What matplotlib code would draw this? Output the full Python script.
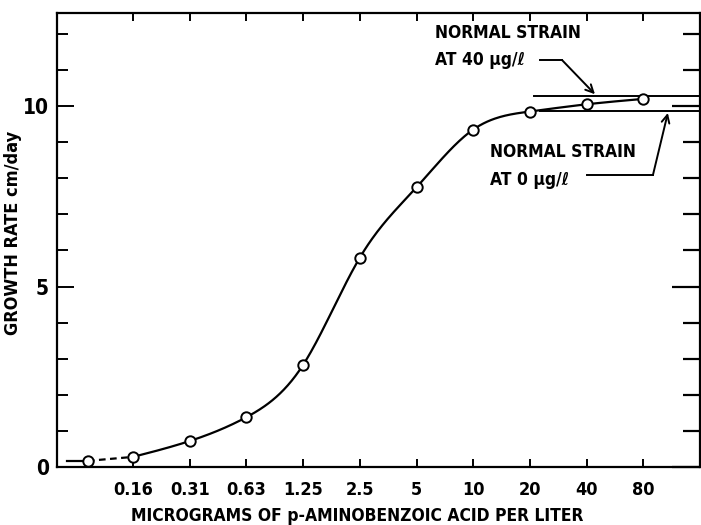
import os
import numpy as np
import matplotlib
matplotlib.use('Agg')
import matplotlib.pyplot as plt
from matplotlib import font_manager as fm
from matplotlib.ticker import FixedLocator, NullLocator, FixedFormatter, NullFormatter

# ---- data ----
conc = [0.09, 0.15625, 0.3125, 0.625, 1.25, 2.5, 5, 10, 20, 40, 80]
growth = [0.17, 0.28, 0.72, 1.38, 2.83, 5.8, 7.75, 9.35, 9.85, 10.05, 10.2]
xtick_vals = [0.15625, 0.3125, 0.625, 1.25, 2.5, 5, 10, 20, 40, 80]
xtick_labels = ['0.16', '0.31', '0.63', '1.25', '2.5', '5', '10', '20', '40', '80']
ytick_major = [0, 5, 10]
ytick_minor = [1, 2, 3, 4, 6, 7, 8, 9, 11, 12]
normal_40 = 10.28
normal_0 = 9.86


def pick_condensed():
    best, best_score = None, None
    for f in fm.fontManager.ttflist:
        nm = f.name.lower(); fn = os.path.basename(f.fname).lower()
        cond = ('condensed' in fn or 'narrow' in fn or 'condensed' in nm or 'narrow' in nm
                or str(f.stretch) in ('condensed', 'semi-condensed', 'extra-condensed'))
        if not cond or f.style != 'normal' or 'oblique' in fn or 'italic' in fn:
            continue
        w = f.weight if isinstance(f.weight, (int, float)) else (700 if 'bold' in str(f.weight) else 400)
        score = -abs(w - 700)
        if 'dejavu' in fn:
            score += 50
        if best_score is None or score > best_score:
            best, best_score = f.fname, score
    return best


cfile = pick_condensed()
if cfile:
    BASE = dict(fname=cfile)
    SCALE = 1.0
else:
    BASE = dict(family=['DejaVu Sans'], weight='bold')
    SCALE = 0.85


def fp(size):
    return fm.FontProperties(size=size * SCALE, **BASE)


def smooth(x, y, xn):
    # natural cubic spline
    x = np.asarray(x, float); y = np.asarray(y, float)
    n = len(x); h = np.diff(x)
    A = np.zeros((n, n)); b = np.zeros(n)
    A[0, 0] = 1; A[-1, -1] = 1
    for i in range(1, n - 1):
        A[i, i - 1] = h[i - 1]; A[i, i] = 2 * (h[i - 1] + h[i]); A[i, i + 1] = h[i]
        b[i] = 6 * ((y[i + 1] - y[i]) / h[i] - (y[i] - y[i - 1]) / h[i - 1])
    M = np.linalg.solve(A, b)
    idx = np.clip(np.searchsorted(x, xn) - 1, 0, n - 2)
    xi, xi1, hi = x[idx], x[idx + 1], h[idx]
    return (M[idx] * (xi1 - xn)**3 / (6 * hi) + M[idx + 1] * (xn - xi)**3 / (6 * hi)
            + (y[idx] / hi - M[idx] * hi / 6) * (xi1 - xn)
            + (y[idx + 1] / hi - M[idx + 1] * hi / 6) * (xn - xi))


fig = plt.figure(figsize=(7.01, 5.25), dpi=100)
ax = fig.add_axes([57 / 701, 1 - 467 / 525, 643 / 701, 454 / 525])
ax.set_xscale('log', base=2)
ax.set_xlim(0.0617, 160)
ax.set_ylim(0, 12.58)

lw = 1.6
lx = np.log2(conc[1:])
xs = np.linspace(lx[0], lx[-1], 400)
ys = smooth(lx, growth[1:], xs)
ax.plot(2**xs, ys, color='black', lw=lw, zorder=2)
ax.plot(conc[:2], growth[:2], color='black', lw=lw, ls=(0, (3, 2)), zorder=2)
ax.plot([0.07, conc[0]], [growth[0], growth[0]], color='black', lw=lw, zorder=2)
ax.plot(conc, growth, ls='none', marker='o', ms=7.5, mfc='white', mec='black', mew=1.4, zorder=3)

ax.plot([21.0, 160], [normal_40, normal_40], color='black', lw=1.4, zorder=2)
ax.plot([22.5, 160], [normal_0, normal_0], color='black', lw=1.4, zorder=2)

TS = 12.5
ax.text(6.27, 12.02, 'NORMAL STRAIN', ha='left', va='center', fontproperties=fp(TS))
ax.text(6.27, 11.27, 'AT 40 µg/ℓ', ha='left', va='center', fontproperties=fp(TS))
ax.plot([22.6, 29.7], [11.27, 11.27], color='black', lw=1.4)
ax.annotate('', xy=(44.3, normal_40 + 0.05), xytext=(29.7, 11.27),
            arrowprops=dict(arrowstyle='->', lw=1.4, color='black', shrinkA=0, shrinkB=0,
                            mutation_scale=14))

ax.text(12.3, 8.73, 'NORMAL STRAIN', ha='left', va='center', fontproperties=fp(TS))
ax.text(12.3, 7.95, 'AT 0 µg/ℓ', ha='left', va='center', fontproperties=fp(TS))
ax.plot([40.2, 90], [8.09, 8.09], color='black', lw=1.4)
ax.annotate('', xy=(108, normal_0 - 0.05), xytext=(90, 8.09),
            arrowprops=dict(arrowstyle='->', lw=1.4, color='black', shrinkA=0, shrinkB=0,
                            mutation_scale=14))

for s in ax.spines.values():
    s.set_linewidth(1.6)

ax.xaxis.set_major_locator(FixedLocator(xtick_vals))
ax.xaxis.set_major_formatter(FixedFormatter(xtick_labels))
ax.xaxis.set_minor_locator(NullLocator())
ax.yaxis.set_major_locator(FixedLocator(ytick_major))
ax.yaxis.set_minor_locator(FixedLocator(ytick_minor))
ax.yaxis.set_minor_formatter(NullFormatter())
ax.tick_params(axis='x', which='major', direction='in', length=6, width=1.4,
               top=True, bottom=True, pad=10)
ax.tick_params(axis='y', which='major', direction='in', length=12, width=1.4,
               left=True, right=False, pad=6)
ax.tick_params(axis='y', which='minor', direction='in', length=8, width=1.4,
               left=True, right=False)
for lab in ax.get_xticklabels():
    lab.set_fontproperties(fp(13))
for lab in ax.get_yticklabels():
    lab.set_fontproperties(fp(15))

ax2 = ax.twinx()
ax2.set_ylim(ax.get_ylim())
ax2.yaxis.set_major_locator(FixedLocator(ytick_major))
ax2.yaxis.set_minor_locator(FixedLocator(ytick_minor))
ax2.yaxis.set_major_formatter(NullFormatter())
ax2.yaxis.set_minor_formatter(NullFormatter())
ax2.tick_params(axis='y', which='major', direction='in', length=20, width=1.6)
ax2.tick_params(axis='y', which='minor', direction='in', length=12, width=1.6)
for s in ax2.spines.values():
    s.set_visible(False)

ax.set_ylabel('GROWTH RATE cm/day', fontproperties=fp(13))
ax.yaxis.set_label_coords(-0.054, 0.515)
ax.set_xlabel('MICROGRAMS OF p-AMINOBENZOIC ACID PER LITER', fontproperties=fp(12.5))
ax.xaxis.set_label_coords(0.467, -0.088)

fig.savefig('out.png', dpi=100)
